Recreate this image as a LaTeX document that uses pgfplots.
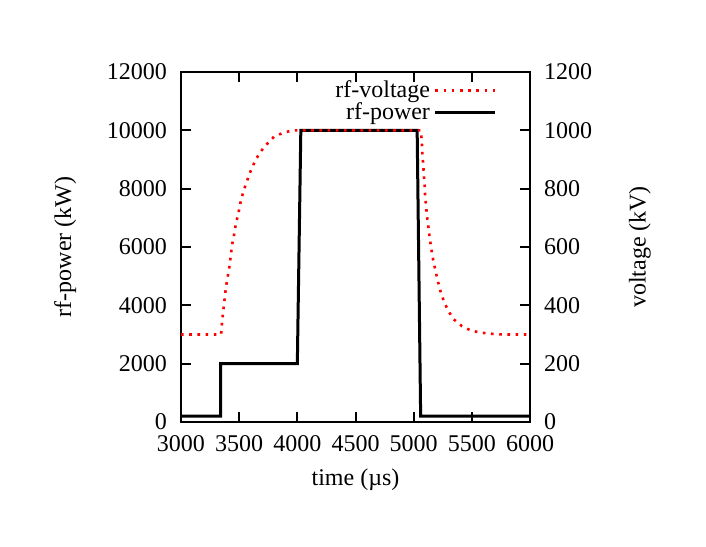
\documentclass[border=0pt]{standalone}
\usepackage{fontspec}
\setmainfont{Liberation Serif}
\usepackage{pgfplots}
\pgfplotsset{compat=1.18}

\pgfplotstableread{
t p
3000 200
3340 200
3340 2000
4000 2000
4030 10000
5030 10000
5060 200
6000 200
}\powertab

\pgfplotstableread{
t v
3000 300
3345 300
3350 330
3364 384
3387 464
3416 532
3439 607
3456 641
3473 682
3493 715
3510 750
3536 790
3565 824
3593 855
3630 889
3673 921
3731 950
3800 978
3880 992
3966 1000
5062 1000
5070 961
5075 921
5081 887
5087 853
5093 818
5098 778
5107 740
5115 704
5127 667
5138 630
5150 598
5164 563
5184 525
5204 490
5227 453
5256 418
5293 384
5342 353
5414 329
5494 313
5586 306
5680 302
5770 300
6000 300
}\volttab

\begin{document}
\begin{tikzpicture}
\pgfplotsset{
    every axis/.append style={
        scale only axis,
        width=174.5pt, height=175pt,
        xmin=3000, xmax=6000,
        axis line style={line width=1.1pt},
        every tick/.style={black, line width=1pt},
        major tick length=5pt,
        tick align=inside,
        font=\fontsize{12}{14}\selectfont,
        /pgf/number format/assume math mode=true,
        /pgf/number format/set thousands separator={},
    },
}
\begin{axis}[
    ymin=0, ymax=12000,
    xtick={3000,3500,...,6000},
    ytick={0,2000,...,12000},
    xtick pos=both,
    ytick pos=left,
    scaled y ticks=false,
    yticklabel style={xshift=-3.5pt},
    xticklabel style={yshift=-3pt},
    xlabel={time (µs)},
    ylabel={rf-power (kW)},
    xlabel style={at={(axis description cs:0.5,-0.166)}, anchor=center},
    ylabel style={at={(axis description cs:-0.332,0.5)}, anchor=center},
]
\addplot[black, line width=1.5pt] table[x=t, y=p] {\powertab};
\end{axis}
\begin{axis}[
    ymin=0, ymax=1200,
    axis x line=none,
    axis y line*=right,
    ytick={0,200,...,1200},
    yticklabel style={xshift=3.5pt},
    ylabel={voltage (kV)},
    ylabel style={at={(axis description cs:1.315,0.5)}, anchor=center, rotate=0},
    legend style={draw=none, fill=none, at={(axis description cs:0.923,1.0)},
        anchor=north east, row sep=-3pt,
        font=\fontsize{12}{14}\selectfont},
    legend cell align=right,
    legend plot pos=right,
    legend image code/.code={\draw[#1] (0cm,0cm) -- (1.05cm,0cm);},
]
\addplot[red, line width=1.3pt, dash pattern=on 1.3pt off 2.8pt] table[x=t, y=v] {\volttab};
\addlegendentry{rf-voltage}
\addlegendimage{black, line width=1.5pt}
\addlegendentry{rf-power}
\end{axis}
\pgfresetboundingbox
\path[use as bounding box] (-90.5pt,-62pt) rectangle (262.5pt,211pt);
\end{tikzpicture}
\end{document}
